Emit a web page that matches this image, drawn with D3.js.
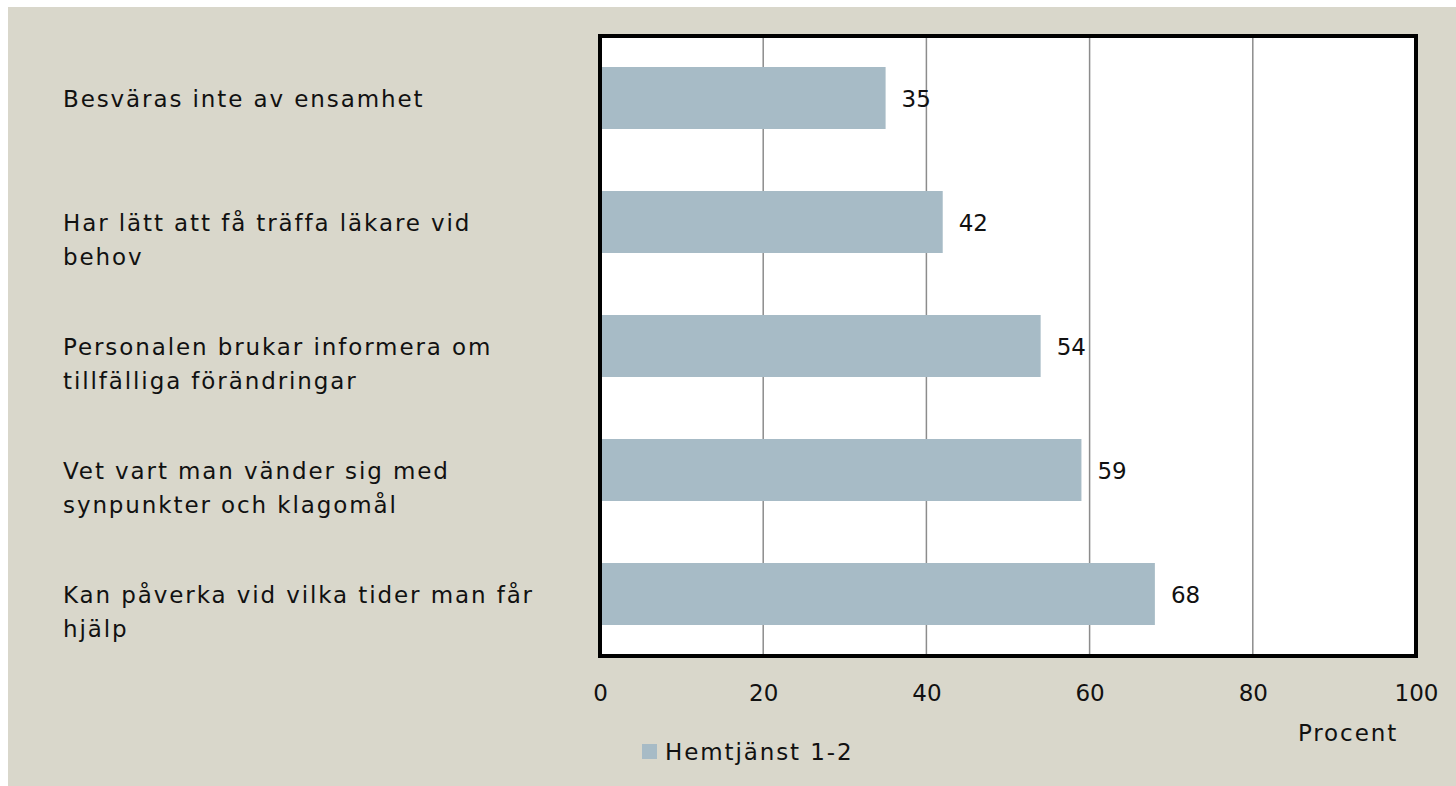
<!DOCTYPE html>
<meta charset="utf-8">
<head>
	<title>Hemtjänst 1-2</title>
</head>
<style>
body{
	margin: 0;
	background: #fff;
}
svg{
	display: block;
	font-family: "DejaVu Sans", sans-serif;
}
.bg{
	fill: #d9d7cb;
}
.grid line{
	stroke: #8c8c8c;
	stroke-width: 1.5;
}
.bar{
	fill: #a7bbc6;
}
text{
	fill: #111;
}
.wide{
	letter-spacing: 1.9px;
}
</style>
<body>
<svg width="1456" height="786"></svg>

<script src="https://cdnjs.cloudflare.com/ajax/libs/d3/7.8.5/d3.min.js"></script>
<script>

// data
var categories = [
	['Besväras inte av ensamhet'],
	['Har lätt att få träffa läkare vid', 'behov'],
	['Personalen brukar informera om', 'tillfälliga förändringar'],
	['Vet vart man vänder sig med', 'synpunkter och klagomål'],
	['Kan påverka vid vilka tider man får', 'hjälp']
];
var values = [35, 42, 54, 59, 68];
var ticks = [0, 20, 40, 60, 80, 100];
var seriesName = 'Hemtjänst 1-2';
var axisTitle = 'Procent';

var svg = d3.select('svg');

svg.append('rect')
	.attr('class', 'bg')
	.attr('x', 8).attr('y', 7)
	.attr('width', 1448).attr('height', 779);

var x = d3.scaleLinear().domain([0, 100]).range([600, 1416]);
var y = d3.scaleBand()
	.domain(d3.range(values.length))
	.range([36, 656])
	.paddingInner(0.5)
	.paddingOuter(0.25);

// plot area
svg.append('rect')
	.attr('x', x(0)).attr('y', 36)
	.attr('width', x(100) - x(0)).attr('height', 620)
	.attr('fill', '#fff');

svg.append('g')
	.attr('class', 'grid')
	.selectAll('line')
	.data(ticks.slice(1, -1))
	.enter()
	.append('line')
	.attr('x1', function(d){ return x(d); })
	.attr('x2', function(d){ return x(d); })
	.attr('y1', 36).attr('y2', 656);

svg.selectAll('.bar')
	.data(values)
	.enter()
	.append('rect')
	.attr('class', 'bar')
	.attr('x', x(0))
	.attr('y', function(d, i){ return y(i); })
	.attr('width', function(d){ return x(d) - x(0); })
	.attr('height', y.bandwidth());

// value labels
svg.selectAll('.val')
	.data(values)
	.enter()
	.append('text')
	.attr('class', 'val')
	.attr('x', function(d){ return x(d) + 16; })
	.attr('y', function(d, i){ return y(i) + y.bandwidth() / 2 + 1; })
	.attr('dy', '0.35em')
	.attr('font-size', 23)
	.text(function(d){ return d; });

// frame
svg.append('rect')
	.attr('x', x(0)).attr('y', 36)
	.attr('width', x(100) - x(0)).attr('height', 620)
	.attr('fill', 'none')
	.attr('stroke', '#000')
	.attr('stroke-width', 4);

// category labels
var cat = svg.selectAll('.cat')
	.data(categories)
	.enter()
	.append('text')
	.attr('class', 'cat wide')
	.attr('font-size', 23)
	.attr('x', 63)
	.attr('y', function(d, i){ return y(i) + y.bandwidth() / 2 + 9; })
	.attr('dy', '0.35em');

cat.selectAll('tspan')
	.data(function(d){ return d; })
	.enter()
	.append('tspan')
	.attr('x', 63)
	.attr('dy', function(d, i){ return i == 0 ? 0 : 34; })
	.text(function(d){ return d; });

// x axis
var xAxis = d3.axisBottom(x).tickValues(ticks).tickSize(0).tickPadding(0);
var ax = svg.append('g')
	.attr('transform', 'translate(0, 693)')
	.call(xAxis);
ax.select('.domain').remove();
ax.selectAll('text')
	.attr('dy', '0.35em')
	.attr('font-size', 23)
	.attr('font-family', '"DejaVu Sans", sans-serif')
	.attr('fill', '#111');

svg.append('text')
	.attr('class', 'wide')
	.attr('x', 1348)
	.attr('y', 733)
	.attr('dy', '0.35em')
	.attr('text-anchor', 'middle')
	.attr('font-size', 23)
	.text(axisTitle);

// legend
svg.append('rect')
	.attr('x', 642).attr('y', 744)
	.attr('width', 15).attr('height', 15)
	.attr('class', 'bar');
svg.append('text')
	.attr('class', 'wide')
	.attr('x', 665)
	.attr('y', 752)
	.attr('dy', '0.35em')
	.attr('font-size', 23)
	.text(seriesName);

</script>
</body>
</html>
